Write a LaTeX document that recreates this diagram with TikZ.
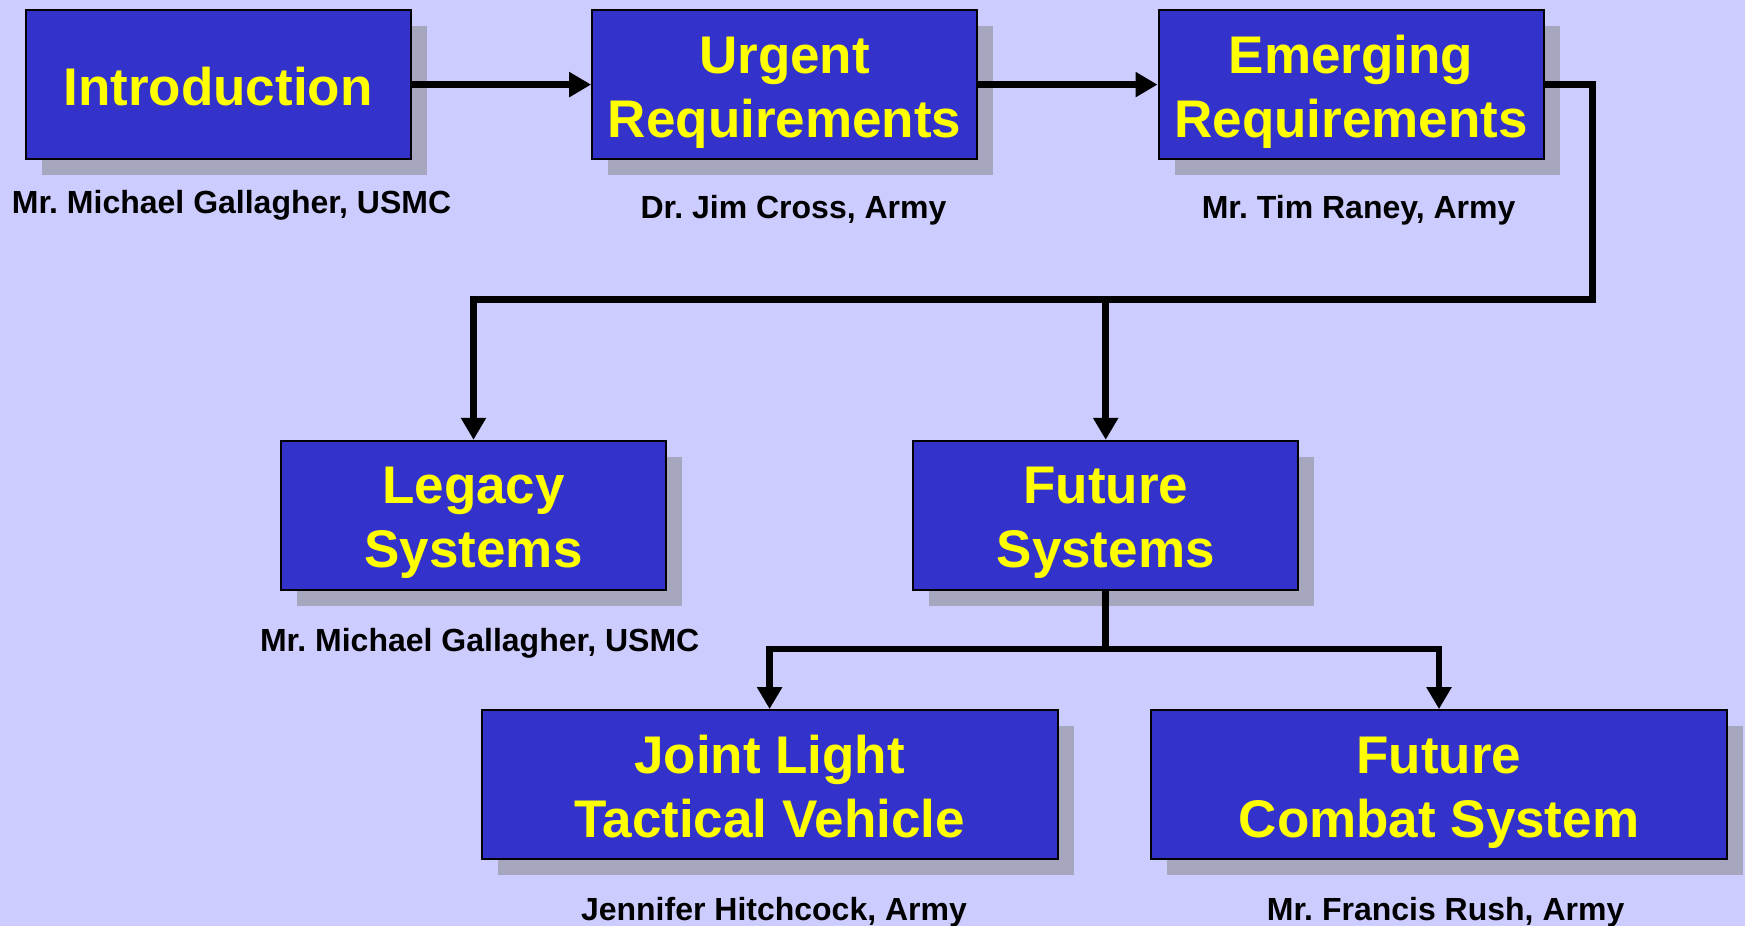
\documentclass[tikz,border=0pt]{standalone}
\usepackage{fontspec}
\setmainfont{Liberation Sans}
\frenchspacing
\usetikzlibrary{arrows.meta,shadows}
\definecolor{bgcol}{HTML}{CCCCFF}
\definecolor{boxcol}{HTML}{3333CC}
\definecolor{shadecol}{HTML}{A6A6BF}
\definecolor{titlecol}{HTML}{FFFF00}
\newcommand{\tstrut}{\rule[-6.5pt]{0pt}{33.5pt}}

\begin{document}
\begin{tikzpicture}[x=0.5pt,y=-0.5pt,
  stage/.style={draw=black,line width=1pt,fill=boxcol,rectangle,
    minimum width=192.5pt,minimum height=74.5pt,align=center,
    text=titlecol,font=\fontsize{26.5}{32}\selectfont\bfseries,
    execute at end node={\tstrut},
    drop shadow={shadow xshift=8pt,shadow yshift=-8pt,fill=shadecol,opacity=1}},
  wide/.style={stage,minimum width=288pt},
  who/.style={anchor=base,font=\fontsize{16}{19}\selectfont\bfseries},
  flow/.style={line width=3.25pt,-{Triangle[length=11pt,width=12pt]}}]
\useasboundingbox (0,0) rectangle (1745,926);
\fill[bgcol] (0,0) rectangle (1745,926);

\node (intro) at (218,84.6) [stage] {\tstrut Introduction};
\node (urg) at (784.6,84.6) [stage] {\tstrut Urgent\\Requirements};
\node (emr) at (1351,84.6) [stage] {\tstrut Emerging\\Requirements};
\node (leg) at (473.5,515.3) [stage] {\tstrut Legacy\\Systems};
\node (fut) at (1105.7,515.3) [stage] {\tstrut Future\\Systems};
\node (jltv) at (769.6,784.6) [wide] {\tstrut Joint Light\\Tactical Vehicle};
\node (fcs) at (1439,784.6) [wide] {\tstrut Future\\Combat System};

\node (introwho) at (231.5,213.3) [who] {Mr. Michael Gallagher, USMC};
\node (urgwho) at (793.5,218.3) [who] {Dr. Jim Cross, Army};
\node (emrwho) at (1358.6,218.3) [who] {Mr. Tim Raney, Army};
\node (legwho) at (479.7,651.7) [who] {Mr. Michael Gallagher, USMC};
\node (jltvwho) at (774,920) [who] {Jennifer Hitchcock, Army};
\node (fcswho) at (1445.6,920) [who] {Mr. Francis Rush, Army};

\coordinate (turn) at (1592.6,299.4);
\coordinate (split) at (1105.7,648.8);
\draw[flow] (intro.east) -- (urg.west);
\draw[flow] (urg.east) -- (emr.west);
\draw[flow] (emr.east) -| (turn) -| (leg.north);
\draw[flow] (fut.north |- turn) -- (fut.north);
\draw[flow] (fut.south) -- (split) -| (jltv.north);
\draw[flow] (split) -| (fcs.north);
\end{tikzpicture}
\end{document}
